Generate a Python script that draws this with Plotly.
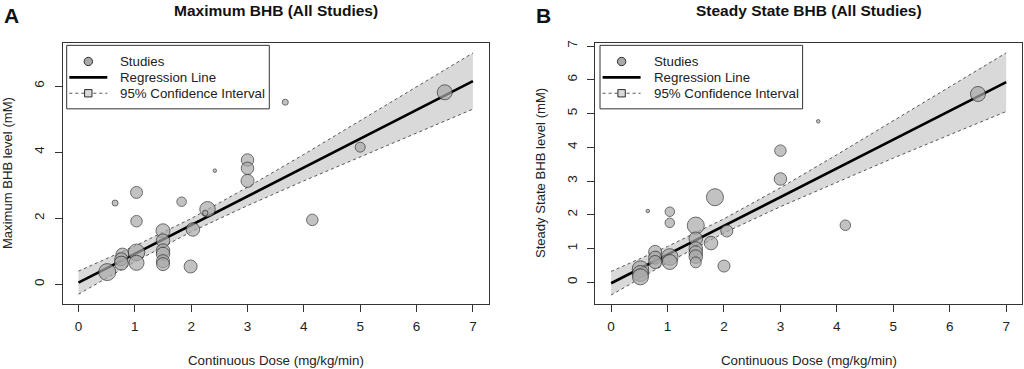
import plotly.graph_objects as go

# ---------------- data ----------------
# Panel A: Maximum BHB
a_dose = [6.50, 5.00, 3.67, 2.42, 3.00, 3.00, 3.00, 4.15, 2.29, 2.25, 1.83, 0.65, 1.03, 1.03,
          2.03, 1.99, 1.50, 1.50, 1.50, 1.50, 1.50, 1.50, 0.78, 0.76, 0.76, 1.03, 1.03, 0.51]
a_bhb = [5.81, 4.15, 5.51, 3.44, 3.76, 3.51, 3.13, 1.95, 2.27, 2.16, 2.50, 2.46, 2.78, 1.91,
         1.66, 0.54, 1.62, 1.32, 1.02, 0.92, 0.70, 0.61, 0.90, 0.76, 0.64, 0.97, 0.65, 0.37]
a_weight = [15, 10, 6, 3.5, 12.5, 12.5, 13, 11.5, 15.5, 5.5, 9.5, 6, 12, 11.5,
            13.5, 13, 14, 13.5, 13.5, 13.5, 13, 13, 13, 13, 14, 16.5, 15, 17]

# Panel B: Steady state BHB
b_dose = [6.50, 3.67, 3.00, 3.00, 4.15, 1.84, 0.65, 1.04, 1.04, 2.05, 2.00, 1.77, 1.50,
          1.50, 1.50, 1.50, 1.50, 1.50, 0.78, 0.78, 0.78, 1.04, 1.04, 0.52, 0.52, 0.52]
b_bhb = [5.58, 4.77, 3.90, 3.06, 1.69, 2.52, 2.11, 2.09, 1.76, 1.52, 0.48, 1.16, 1.68,
         1.29, 1.00, 0.88, 0.76, 0.59, 0.90, 0.73, 0.60, 0.75, 0.60, 0.39, 0.26, 0.16]
b_weight = [15, 3.5, 11.5, 12.5, 10.5, 17, 3.5, 9.5, 9.5, 12, 12, 13.5, 17,
            13.5, 13.5, 13.5, 13.5, 11, 13, 13, 13, 16.5, 15, 16.5, 16, 16]

# Regression lines
reg_x = [0, 7]
a_reg = [0.05, 6.15]
b_reg = [-0.03, 5.93]

# 95% confidence band (at integer doses)
ci_x = [0, 1, 2, 3, 4, 5, 6, 7]
a_ci_lo = [-0.30, 0.68, 1.59, 2.38, 3.13, 3.85, 4.58, 5.30]
a_ci_hi = [0.40, 1.16, 1.99, 2.94, 3.93, 4.95, 5.98, 7.00]
b_ci_lo = [-0.38, 0.58, 1.46, 2.24, 2.96, 3.68, 4.37, 5.06]
b_ci_hi = [0.32, 1.06, 1.88, 2.80, 3.78, 4.78, 5.79, 6.80]

x_ticks = [0, 1, 2, 3, 4, 5, 6, 7]
a_y_ticks = [0, 2, 4, 6]
b_y_ticks = [0, 1, 2, 3, 4, 5, 6, 7]

titles = ["Maximum BHB (All Studies)", "Steady State BHB (All Studies)"]
y_titles = ["Maximum BHB level (mM)", "Steady State BHB level (mM)"]
x_title = "Continuous Dose (mg/kg/min)"
panel_letters = ["A", "B"]
legend_labels = ["Studies", "Regression Line", "95% Confidence Interval"]

# ---------------- style ----------------
FONT = "Liberation Sans, Arial, Helvetica, sans-serif"
PT_FILL = "#A9A9A9"
EDGE = "#2b2b2b"
BAND = "#D9D9D9"
DASH = "#555555"
TXT = "#222222"
W, H = 1024, 369


def px(x):
    return x / W


def py(y):
    return 1 - y / H


fig = go.Figure()

panels = [
    (a_dose, a_bhb, a_weight, a_reg, a_ci_lo, a_ci_hi, "x", "y"),
    (b_dose, b_bhb, b_weight, b_reg, b_ci_lo, b_ci_hi, "x2", "y2"),
]

for dose, bhb, w, reg, lo, hi, xa, ya in panels:
    fig.add_trace(go.Scatter(x=ci_x, y=lo, mode="lines", xaxis=xa, yaxis=ya,
                             line=dict(color=DASH, width=1, dash="3px,3px"),
                             showlegend=False, hoverinfo="skip"))
    fig.add_trace(go.Scatter(x=ci_x, y=hi, mode="lines", xaxis=xa, yaxis=ya,
                             fill="tonexty", fillcolor=BAND,
                             line=dict(color=DASH, width=1, dash="3px,3px"),
                             showlegend=False, hoverinfo="skip"))
    fig.add_trace(go.Scatter(x=reg_x, y=reg, mode="lines", xaxis=xa, yaxis=ya,
                             line=dict(color="black", width=2.6),
                             showlegend=False))
    fig.add_trace(go.Scatter(x=dose, y=bhb, mode="markers", xaxis=xa, yaxis=ya,
                             marker=dict(size=w, color=PT_FILL,
                                         line=dict(color=EDGE, width=1)),
                             showlegend=False))

xdomA = [62.7 / W, 488.7 / W]
xdomB = [595.3 / W, 1022 / W]
ydom = [1 - 303.3 / H, 1 - 40.7 / H]

axis_common = dict(showline=True, mirror=True, linecolor="#333333", linewidth=1,
                   ticks="outside", ticklen=7, tickwidth=1, tickcolor="#333333",
                   showgrid=False, zeroline=False,
                   tickfont=dict(size=13.5, color=TXT, family=FONT))

fig.update_layout(
    width=W, height=H,
    margin=dict(l=0, r=0, t=0, b=0),
    paper_bgcolor="white", plot_bgcolor="white",
    font=dict(family=FONT, size=13, color=TXT),
    showlegend=False,
    xaxis=dict(domain=xdomA, range=[-0.28, 7.28], tickvals=x_ticks, anchor="y",
               ticklabelstandoff=3, **axis_common),
    yaxis=dict(domain=ydom, range=[-0.59, 7.29], tickvals=a_y_ticks, anchor="x",
               tickangle=-90, ticklabelstandoff=5, **axis_common),
    xaxis2=dict(domain=xdomB, range=[-0.28, 7.28], tickvals=x_ticks, anchor="y2",
                ticklabelstandoff=3, **axis_common),
    yaxis2=dict(domain=ydom, range=[-0.64, 7.08], tickvals=b_y_ticks, anchor="x2",
                tickangle=-90, ticklabelstandoff=5, **axis_common),
)

annotations = []
shapes = []
for i, dom in enumerate([xdomA, xdomB]):
    cx = (dom[0] + dom[1]) / 2
    annotations.append(dict(text="<b>%s</b>" % titles[i], x=cx, y=py(7.5),
                            xref="paper", yref="paper", showarrow=False,
                            xanchor="center", yanchor="middle",
                            font=dict(size=15.5, family=FONT, color="#111111")))
    annotations.append(dict(text=x_title, x=cx, y=py(360),
                            xref="paper", yref="paper", showarrow=False,
                            xanchor="center", yanchor="middle",
                            font=dict(size=13.3, family=FONT, color=TXT)))

ycen = (ydom[0] + ydom[1]) / 2
for ytxt, xpos in zip(y_titles, [7.5, 540.5]):
    annotations.append(dict(text=ytxt, x=px(xpos), y=ycen, textangle=-90,
                            xref="paper", yref="paper", showarrow=False,
                            xanchor="center", yanchor="middle",
                            font=dict(size=13.1, family=FONT, color=TXT)))
for letter, xpos in zip(panel_letters, [2, 534]):
    annotations.append(dict(text="<b>%s</b>" % letter, x=px(xpos), y=py(13),
                            xref="paper", yref="paper", showarrow=False,
                            xanchor="left", yanchor="middle",
                            font=dict(size=21, family=FONT, color="#111111")))

# ---- legend boxes (drawn like base-R legend) ----
row_y = [59, 75, 91]
for left in [66.7, 600.0]:
    shapes.append(dict(type="rect", xref="paper", yref="paper",
                       x0=px(left), x1=px(left + 202.6), y0=py(42.7), y1=py(106.7),
                       line=dict(color="#333333", width=1), fillcolor="white", layer="above"))
    sx = left + 21.6
    shapes.append(dict(type="circle", xref="paper", yref="paper",
                       x0=px(sx - 4.2), x1=px(sx + 4.2), y0=py(row_y[0] + 4.2), y1=py(row_y[0] - 4.2),
                       line=dict(color=EDGE, width=1), fillcolor=PT_FILL, layer="above"))
    shapes.append(dict(type="line", xref="paper", yref="paper",
                       x0=px(left + 2.6), x1=px(left + 40.6), y0=py(row_y[1]), y1=py(row_y[1]),
                       line=dict(color="black", width=2.6), layer="above"))
    shapes.append(dict(type="line", xref="paper", yref="paper",
                       x0=px(left + 2.6), x1=px(left + 40.6), y0=py(row_y[2]), y1=py(row_y[2]),
                       line=dict(color=DASH, width=1, dash="3px,3px"), layer="above"))
    shapes.append(dict(type="rect", xref="paper", yref="paper",
                       x0=px(sx - 3.7), x1=px(sx + 3.7), y0=py(row_y[2] + 3.7), y1=py(row_y[2] - 3.7),
                       line=dict(color=EDGE, width=1), fillcolor=BAND, layer="above"))
    for lab, ry in zip(legend_labels, row_y):
        annotations.append(dict(text=lab, x=px(left + 51.6), y=py(ry),
                                xref="paper", yref="paper", showarrow=False,
                                xanchor="left", yanchor="middle",
                                font=dict(size=13.3, family=FONT, color=TXT)))

fig.update_layout(annotations=annotations, shapes=shapes)

fig.write_html("out.html", config={"displayModeBar": False},
               post_script="document.body.style.margin='0';document.body.style.overflow='hidden';")
